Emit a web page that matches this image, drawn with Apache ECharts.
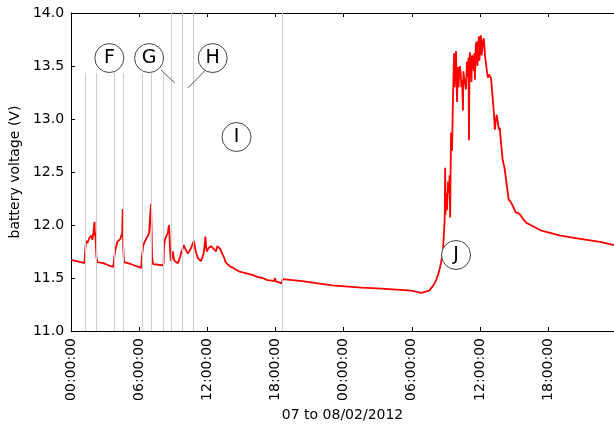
<!DOCTYPE html>
<html>
<head>
<meta charset="utf-8">
<script src="https://cdn.jsdelivr.net/npm/echarts@6/dist/echarts.min.js"></script>
<style>html,body{margin:0;padding:0;background:#fff;}#c{width:614px;height:430px;}</style>
</head>
<body>
<div id="c"></div>
<script>
// hours since 00:00 07/02/2012
const hours = [
0,0.66,1.18,1.22,1.27,1.35,1.44,1.62,1.79,1.88,1.97,2.06,2.10,2.14,2.23,2.32,2.84,3.30,3.72,3.78,
3.81,3.89,3.98,4.07,4.24,4.35,4.42,4.50,4.55,4.59,4.66,4.80,5.29,6.17,6.22,6.26,6.35,6.43,6.61,6.78,
6.87,6.96,7.04,7.10,7.13,7.22,7.66,8.09,8.15,8.18,8.27,8.36,8.45,8.53,8.62,8.66,8.70,8.79,8.90,8.97,
9.05,9.12,9.41,9.55,9.70,9.80,9.93,10.03,10.13,10.28,10.43,10.60,10.72,10.82,10.87,10.98,11.15,11.30,11.44,11.59,
11.70,11.83,11.90,11.97,12.08,12.18,12.32,12.47,12.60,12.76,12.88,12.99,13.10,13.19,13.35,13.49,13.60,13.78,14.04,14.22,
14.50,14.83,15.20,15.60,15.97,16.40,16.84,17.30,17.70,17.89,17.95,18.00,18.15,18.55,18.64,18.77,20.35,22.97,25.59,27.34,
29.97,30.84,31.54,31.90,32.15,32.40,32.59,32.74,32.85,32.90,32.94,32.98,33.03,33.10,33.20,33.29,33.33,33.38,33.46,33.55,
33.64,33.73,33.77,33.81,33.90,33.95,33.99,34.04,34.08,34.12,34.16,34.24,34.31,34.37,34.43,34.51,34.55,34.60,34.69,34.78,
34.86,34.93,35.00,35.04,35.08,35.12,35.21,35.26,35.30,35.38,35.47,35.51,35.56,35.64,35.73,35.78,35.82,35.91,35.96,36.00,
36.09,36.15,36.20,36.28,36.35,36.45,36.53,36.62,36.70,36.80,36.97,37.05,37.14,37.23,37.32,37.40,37.49,37.58,37.67,37.75,
37.84,38.01,38.15,38.28,38.40,38.54,38.70,38.80,38.95,39.15,39.30,39.41,39.60,39.85,40.10,40.46,41.34,43.09,44.84,46.59,
47.81
];
const voltage = [
11.67,11.655,11.64,11.64,11.80,11.85,11.83,11.88,11.90,11.86,11.93,12.03,11.90,11.93,11.70,11.65,11.64,11.62,11.605,11.60,
11.70,11.76,11.80,11.84,11.85,11.87,11.90,11.92,12.15,11.80,11.65,11.64,11.63,11.595,11.60,11.72,11.80,11.83,11.87,11.90,
11.93,11.94,12.20,11.90,11.70,11.63,11.625,11.62,11.64,11.80,11.86,11.89,11.91,11.93,12.00,11.93,11.80,11.66,11.70,11.75,
11.68,11.66,11.64,11.68,11.74,11.77,11.81,11.78,11.76,11.73,11.74,11.79,11.83,11.85,11.86,11.75,11.69,11.68,11.66,11.70,
11.75,11.89,11.78,11.75,11.78,11.77,11.80,11.79,11.77,11.75,11.80,11.81,11.78,11.76,11.72,11.69,11.65,11.63,11.605,11.60,
11.58,11.56,11.55,11.54,11.53,11.51,11.50,11.48,11.475,11.47,11.50,11.47,11.46,11.45,11.49,11.49,11.47,11.43,11.41,11.40,
11.38,11.36,11.38,11.43,11.48,11.56,11.65,11.75,11.95,12.05,12.54,12.10,12.30,12.14,12.41,12.30,12.47,12.07,12.87,12.70,
13.25,13.62,13.30,13.40,13.64,13.35,13.16,13.45,13.49,13.30,13.40,13.50,13.43,13.30,13.37,13.08,13.45,13.40,13.40,13.28,
13.54,13.40,13.58,12.80,13.45,13.63,13.50,13.35,13.60,13.58,13.45,13.62,13.37,13.70,13.73,13.50,13.60,13.78,13.55,13.68,
13.79,13.60,13.65,13.74,13.76,13.60,13.53,13.45,13.39,13.42,13.39,13.30,13.18,13.06,12.90,12.99,13.04,12.97,12.90,12.92,
12.80,12.61,12.55,12.45,12.35,12.24,12.22,12.22,12.17,12.12,12.13,12.11,12.09,12.05,12.02,12.00,11.95,11.90,11.87,11.84,
11.81
];
// marker (event) times in hours, and whether the marker reaches the top of the plot
const markerHours = [1.24,2.26,3.81,4.59,6.23,7.07,8.15,8.85,9.78,10.78,18.59];
const markerTall  = [false,false,false,false,false,false,false,true,true,true,true];
const markerShortTop = 13.434;
// annotation letters and their positions in data space (hours, volts)
const annLabels = ['F','G','H','I','J'];
const annHours  = [3.37,6.87,12.47,14.57,33.90];
const annVolts  = [13.575,13.575,13.575,12.83,11.717];
// leader lines for G and H: [startHour, startVolt, endHour, endVolt]
const leaders = [[7.92,13.462,9.14,13.34],[11.85,13.462,10.28,13.292]];

const xMax = 47.81;
const font = 'DejaVu Sans';

const lineData = hours.map((h,i)=>[h, voltage[i]]);
const markerLines = markerHours.map((h,i)=>[
  {coord:[h, markerTall[i] ? 14 : markerShortTop]},
  {coord:[h, 11]}
]);
const leaderLines = leaders.map(l=>[{coord:[l[0],l[1]]},{coord:[l[2],l[3]]}]);

const fmt = v => {
  const hh = Math.round(v) % 24;
  return (hh < 10 ? '0' : '') + hh + ':00:00';
};

const chart = echarts.init(document.getElementById('c'), null, {renderer:'canvas'});
chart.setOption({
  animation: false,
  textStyle: {fontFamily: font},
  grid: {left: 67.5, right: 0, top: 13, bottom: 99, containLabel: false},
  xAxis: [{
    type: 'value', min: 0, max: xMax, interval: 6,
    name: '07 to 08/02/2012', nameLocation: 'middle', nameGap: 77,
    nameTextStyle: {fontSize: 14, color: '#000', fontFamily: font},
    axisLine: {show: true, lineStyle: {color: '#000', width: 1}},
    axisTick: {show: true, inside: true, length: 4, lineStyle: {color: '#000'}},
    axisLabel: {rotate: 90, fontSize: 14, color: '#000', margin: 7, fontFamily: font,
      formatter: fmt, showMaxLabel: false},
    splitLine: {show: false}
  },{
    type: 'value', position: 'top', min: 0, max: xMax, interval: 6,
    axisLine: {show: true, lineStyle: {color: '#000', width: 1}},
    axisTick: {show: true, inside: true, length: 4, lineStyle: {color: '#000'}},
    axisLabel: {show: false},
    splitLine: {show: false}
  }],
  yAxis: {
    type: 'value', min: 11, max: 14, interval: 0.5,
    name: 'battery voltage (V)', nameLocation: 'middle', nameGap: 49,
    nameTextStyle: {fontSize: 14, color: '#000', fontFamily: font},
    axisLine: {show: true, lineStyle: {color: '#000', width: 1}},
    axisTick: {show: true, inside: true, length: 4, lineStyle: {color: '#000'}},
    axisLabel: {fontSize: 14, color: '#000', margin: 7, fontFamily: font,
      formatter: v => v.toFixed(1)},
    splitLine: {show: false}
  },
  series: [{
    type: 'line', data: [], z: 1, silent: true,
    markLine: {
      silent: true, symbol: 'none', label: {show: false},
      lineStyle: {color: '#cccccc', width: 1, type: 'solid'},
      data: markerLines
    }
  },{
    type: 'line', data: lineData, z: 3, showSymbol: false, symbol: 'none',
    lineStyle: {color: '#ff0000', width: 1.8}, itemStyle: {color: '#ff0000'}
  },{
    type: 'scatter', z: 5, silent: true,
    data: annLabels.map((n,i)=>({name: n, value: [annHours[i], annVolts[i]]})),
    symbol: 'circle', symbolSize: 29,
    itemStyle: {color: '#ffffff', borderColor: '#444', borderWidth: 1, opacity: 1},
    label: {show: true, position: 'inside', formatter: '{b}', fontSize: 19, color: '#000', fontFamily: font},
    markLine: {
      silent: true, symbol: 'none', label: {show: false},
      lineStyle: {color: '#555', width: 1, type: 'solid'},
      data: leaderLines
    }
  }]
});
</script>
</body>
</html>
